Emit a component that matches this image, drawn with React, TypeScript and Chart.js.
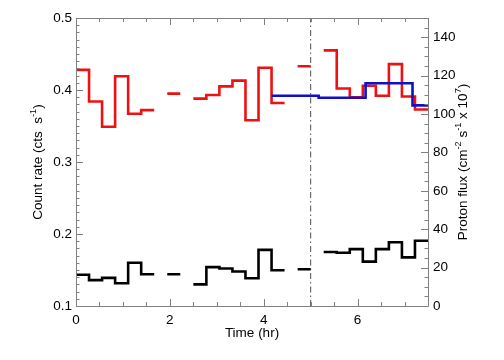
import React, { useEffect, useRef } from 'react';
import { Chart, registerables } from 'chart.js';

Chart.register(...registerables);

// Time bins of 1000 s, expressed in hours
const BIN_HOURS = 1000 / 3600;

// Count rate (cts s^-1), red light curve, one value per 1000 s bin (null = no data)
const countRateRed: (number | null)[] = [
  0.428, 0.384, 0.349, 0.419, 0.367, 0.372, null, 0.395, null, 0.388,
  0.393, 0.405, 0.413, 0.358, 0.431, 0.382, null, 0.433, null, 0.455,
  0.402, 0.39, 0.406, 0.392, 0.436, 0.391, 0.373,
];

// Count rate (cts s^-1), black light curve
const countRateBlack: (number | null)[] = [
  0.1435, 0.136, 0.139, 0.1315, 0.16, 0.144, null, 0.144, null, 0.13,
  0.154, 0.152, 0.148, 0.1385, 0.178, 0.1496, null, 0.151, null, 0.175,
  0.174, 0.179, 0.1616, 0.179, 0.1885, 0.1676, 0.1907,
];

// Proton flux (cm^-2 s^-1 x 10^7), hourly bins
const protonEdges = [4.17, 5.17, 6.17, 7.17, 7.5];
const protonFlux = [109.5, 108.5, 116, 104.5];

// Vertical marker (hr)
const markerTime = 5;

// Tick labels
const xTickValues = [0, 2, 4, 6];
const leftTickValues = [0.1, 0.2, 0.3, 0.4, 0.5];
const rightTickValues = [0, 20, 40, 60, 80, 100, 120, 140];

const FONT = '"Liberation Sans", Arial, Helvetica, sans-serif';
const FONT_SIZE = 13.5;
const AXIS_COLOR = '#808080';

function histPoints(values: (number | null)[]) {
  const pts: { x: number; y: number | null }[] = [];
  values.forEach((v, k) => {
    if (v == null) {
      pts.push({ x: (k + 0.5) * BIN_HOURS, y: null });
    } else {
      pts.push({ x: k * BIN_HOURS, y: v });
      pts.push({ x: (k + 1) * BIN_HOURS, y: v });
    }
  });
  return pts;
}

function edgePoints(edges: number[], values: number[]) {
  const pts: { x: number; y: number }[] = [];
  values.forEach((v, i) => {
    pts.push({ x: edges[i], y: v });
    pts.push({ x: edges[i + 1], y: v });
  });
  return pts;
}

type Seg = { t: string; sup?: boolean };

function drawRich(ctx: CanvasRenderingContext2D, segs: Seg[], cx: number, cy: number, rot: number) {
  const base = `${FONT_SIZE}px ${FONT}`;
  const small = `${FONT_SIZE * 0.68}px ${FONT}`;
  let total = 0;
  const widths = segs.map((s) => {
    ctx.font = s.sup ? small : base;
    const w = ctx.measureText(s.t).width;
    total += w;
    return w;
  });
  ctx.save();
  ctx.translate(cx, cy);
  ctx.rotate(rot);
  ctx.fillStyle = '#000';
  ctx.textBaseline = 'middle';
  ctx.textAlign = 'left';
  let x = -total / 2;
  segs.forEach((s, i) => {
    ctx.font = s.sup ? small : base;
    ctx.fillText(s.t, x, s.sup ? -5 : 0);
    x += widths[i];
  });
  ctx.restore();
}

const framePlugin = {
  id: 'frame',
  afterDatasetsDraw(chart: any) {
    const { ctx, chartArea: a, scales } = chart;
    const xs = scales.x;
    const yl = scales.y;
    const yr = scales.y2;
    ctx.save();
    ctx.strokeStyle = AXIS_COLOR;
    ctx.lineWidth = 1;
    ctx.beginPath();
    ctx.rect(Math.round(a.left) + 0.5, Math.round(a.top) + 0.5, Math.round(a.right - a.left), Math.round(a.bottom - a.top));
    ctx.stroke();
    ctx.beginPath();
    // left axis ticks (minor 0.01, major 0.1)
    for (let i = 0; i <= 40; i++) {
      const v = 0.1 + i * 0.01;
      const y = Math.round(yl.getPixelForValue(v)) + 0.5;
      const len = i % 10 === 0 ? 7 : 3.5;
      ctx.moveTo(a.left, y);
      ctx.lineTo(a.left + len, y);
    }
    // right axis ticks (minor 5, major 20)
    for (let v = 0; v <= 150; v += 5) {
      const y = Math.round(yr.getPixelForValue(v)) + 0.5;
      const len = v % 20 === 0 ? 7 : 3.5;
      ctx.moveTo(a.right, y);
      ctx.lineTo(a.right - len, y);
    }
    // bottom / top ticks (minor 0.5, major 2)
    for (let i = 0; i <= 15; i++) {
      const v = i * 0.5;
      const x = Math.round(xs.getPixelForValue(v)) + 0.5;
      const len = i % 4 === 0 ? 7 : 4;
      ctx.moveTo(x, a.bottom);
      ctx.lineTo(x, a.bottom - len);
      ctx.moveTo(x, a.top);
      ctx.lineTo(x, a.top + len);
    }
    ctx.stroke();
    ctx.restore();

    drawRich(ctx, [{ t: 'Count rate (cts  s' }, { t: '-1', sup: true }, { t: ')' }], 38, (a.top + a.bottom) / 2, -Math.PI / 2);
    drawRich(
      ctx,
      [
        { t: 'Proton flux (cm' },
        { t: '-2', sup: true },
        { t: ' s' },
        { t: '-1', sup: true },
        { t: ' x 10' },
        { t: '7', sup: true },
        { t: ')' },
      ],
      463,
      (a.top + a.bottom) / 2,
      -Math.PI / 2
    );
  },
};

export default function App() {
  const ref = useRef<HTMLCanvasElement | null>(null);

  useEffect(() => {
    if (!ref.current) return;
    const chart = new Chart(ref.current, {
      type: 'line',
      data: {
        datasets: [
          {
            label: 'Proton flux',
            data: edgePoints(protonEdges, protonFlux),
            yAxisID: 'y2',
            borderColor: '#1010c8',
            borderWidth: 2.6,
            pointRadius: 0,
            borderJoinStyle: 'miter',
            borderCapStyle: 'butt',
          },
          {
            label: 'Red',
            data: histPoints(countRateRed),
            yAxisID: 'y',
            borderColor: '#ee1111',
            borderWidth: 2.6,
            pointRadius: 0,
            spanGaps: false,
            borderJoinStyle: 'miter',
            borderCapStyle: 'butt',
          },
          {
            label: 'Black',
            data: histPoints(countRateBlack),
            yAxisID: 'y',
            borderColor: '#000000',
            borderWidth: 2.6,
            pointRadius: 0,
            spanGaps: false,
            borderJoinStyle: 'miter',
            borderCapStyle: 'butt',
          },
          {
            label: 'Marker',
            data: [
              { x: markerTime, y: 0.1 },
              { x: markerTime, y: 0.5 },
            ],
            yAxisID: 'y',
            borderColor: '#505050',
            borderWidth: 1,
            borderDash: [6, 3, 1.5, 3],
            pointRadius: 0,
          },
        ] as any,
      },
      options: {
        animation: false,
        responsive: false,
        maintainAspectRatio: false,
        events: [],
        layout: { padding: { top: 18, left: 0, right: 0, bottom: 0 } },
        plugins: { legend: { display: false }, tooltip: { enabled: false } },
        scales: {
          x: {
            type: 'linear',
            min: 0,
            max: 7.5,
            grid: { display: false, drawTicks: false },
            border: { display: false },
            afterBuildTicks: (s: any) => {
              s.ticks = xTickValues.map((v) => ({ value: v }));
            },
            afterFit: (s: any) => {
              s.height = 54;
            },
            ticks: {
              color: '#000',
              padding: 6,
              maxRotation: 0,
              font: { family: FONT, size: FONT_SIZE },
              callback: (v: any) => String(v),
            },
            title: {
              display: true,
              text: 'Time (hr)',
              color: '#000',
              padding: { top: 0, bottom: 19 },
              font: { family: FONT, size: FONT_SIZE },
            },
          },
          y: {
            type: 'linear',
            position: 'left',
            min: 0.1,
            max: 0.5,
            grid: { display: false, drawTicks: false },
            border: { display: false },
            afterBuildTicks: (s: any) => {
              s.ticks = leftTickValues.map((v) => ({ value: v }));
            },
            afterFit: (s: any) => {
              s.width = 76;
            },
            ticks: {
              color: '#000',
              padding: 4,
              font: { family: FONT, size: FONT_SIZE },
              callback: (v: any) => Number(v).toFixed(1),
            },
          },
          y2: {
            type: 'linear',
            position: 'right',
            min: 0,
            max: 150,
            grid: { display: false, drawTicks: false },
            border: { display: false },
            afterBuildTicks: (s: any) => {
              s.ticks = rightTickValues.map((v) => ({ value: v }));
            },
            afterFit: (s: any) => {
              s.width = 76;
            },
            ticks: {
              color: '#000',
              padding: 5,
              font: { family: FONT, size: FONT_SIZE },
              callback: (v: any) => String(v),
            },
          },
        },
      } as any,
      plugins: [framePlugin],
    });
    return () => chart.destroy();
  }, []);

  return (
    <div style={{ position: 'fixed', left: 0, top: 0, width: 504, height: 360, background: '#fff' }}>
      <canvas ref={ref} width={504} height={360} style={{ width: 504, height: 360, display: 'block' }} />
    </div>
  );
}
